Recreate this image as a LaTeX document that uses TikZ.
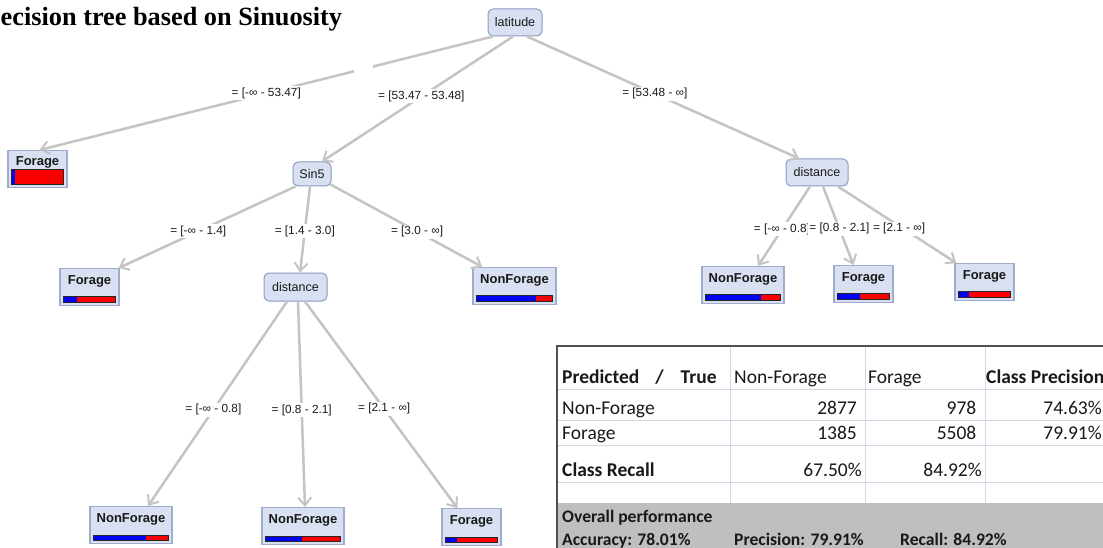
\documentclass[tikz,border=0pt]{standalone}
\usepackage{fontspec}
\usetikzlibrary{arrows.meta}
\newfontfamily\treefont{Liberation Sans}
\newfontfamily\tabfont{Carlito}
\newfontfamily\titlefont{Liberation Serif}
\definecolor{nodefill}{RGB}{217,224,242}
\definecolor{nodeline}{RGB}{140,155,195}
\definecolor{leafline}{RGB}{160,172,204}
\definecolor{edgegray}{RGB}{196,196,196}
\definecolor{gridc}{RGB}{208,215,229}
\definecolor{tabline}{RGB}{80,80,80}
\definecolor{grayfill}{RGB}{191,191,191}
\definecolor{barblue}{RGB}{0,0,240}
\definecolor{barred}{RGB}{250,0,0}
\definecolor{txt}{RGB}{25,25,25}
\tikzset{
  inode/.style={draw=nodeline, line width=1pt, fill=nodefill, rounded corners=5pt,
    inner sep=0pt, font=\treefont\fontsize{12.5}{14}\selectfont, text=txt},
  leafbox/.style={draw=leafline, line width=1.3pt, fill=nodefill, inner sep=0pt, minimum height=37pt},
  leaftext/.style={inner sep=0pt, font=\treefont\bfseries\fontsize{13}{15}\selectfont, text=txt},
  edge/.style={draw=edgegray, line width=2.5pt, -{Straight Barb[length=8pt,width=13pt,line width=2pt]}},
  lab/.style={fill=white, inner sep=1.5pt, font=\treefont\fontsize{11.8}{13}\selectfont, text=txt},
  tl/.style={inner sep=0pt, anchor=base west, font=\tabfont\fontsize{19.5}{22}\selectfont, text=txt},
  tr/.style={inner sep=0pt, anchor=base east, font=\tabfont\fontsize{19.5}{22}\selectfont, text=txt},
  tb/.style={inner sep=0pt, anchor=base west, font=\tabfont\bfseries\fontsize{17.6}{20}\selectfont, text=txt},
  gridline/.style={draw=gridc, line width=1pt},
  barline/.style={draw=black!85, line width=0.8pt}
}
% name, cx, top, width, label, blue fraction, bar height
\newcommand{\leafnode}[7]{%
  \node[leafbox, minimum width=#4pt, anchor=north] (#1) at (#2,#3) {};
  \node[leaftext, anchor=base] (#1t) at ([yshift=-16pt]#1.north) {#5};
  \pgfmathsetmacro\lfL{#2-#4/2+3}
  \pgfmathsetmacro\lfR{#2+#4/2-4}
  \pgfmathsetmacro\lfM{\lfL+#6*(\lfR-\lfL)}
  \pgfmathsetmacro\lfB{#3+37-3}
  \pgfmathsetmacro\lfT{\lfB-#7}
  \fill[barblue] (\lfL,\lfT) rectangle (\lfM,\lfB);
  \fill[barred] (\lfM,\lfT) rectangle (\lfR,\lfB);
  \draw[barline] (\lfL,\lfT) rectangle (\lfR,\lfB);
}
\begin{document}
\begin{tikzpicture}[x=1pt,y=-1pt]
\useasboundingbox (0,0) rectangle (1103,548);
\clip (0,0) rectangle (1103,548);
\fill[white] (0,0) rectangle (1103,548);

% title
\node[inner sep=0pt, anchor=base west, font=\titlefont\bfseries\fontsize{26.3}{30}\selectfont] (title) at (0.5,26) {ecision tree based on Sinuosity};

% inner nodes
\node[inode, minimum width=54pt, minimum height=27pt] (lat) at (515,22.5) {latitude};
\node[inode, minimum width=38pt, minimum height=24pt] (sin) at (312,174) {Sin5};
\node[inode, minimum width=62pt, minimum height=27pt] (distR) at (817,172.5) {distance};
\node[inode, minimum width=63pt, minimum height=28pt] (distM) at (295.5,287) {distance};

% leaves
\leafnode{leafA}{37.5}{150}{59}{Forage}{0.08}{15}
\leafnode{leafB}{89.5}{268}{59}{Forage}{0.26}{6}
\leafnode{leafC}{514.5}{267}{83}{NonForage}{0.79}{6}
\leafnode{leafD}{743}{266}{82}{NonForage}{0.74}{6}
\leafnode{leafE}{863.5}{265}{59}{Forage}{0.435}{6}
\leafnode{leafF}{984.5}{263}{59}{Forage}{0.22}{6}
\leafnode{leafG}{131}{506}{82}{NonForage}{0.71}{5}
\leafnode{leafH}{303}{507}{82}{NonForage}{0.49}{5}
\leafnode{leafI}{471.5}{508}{59}{Forage}{0.24}{5}

% edges
\draw[edge] ([xshift=-22pt]lat.south) -- node[lab, pos=0.5] (l1) {= [-∞ - 53.47]} ([xshift=2pt]leafA.north);
\fill[white] (354,57) rectangle (373,79);
\draw[edge] ([xshift=-2pt]lat.south) -- node[lab, pos=0.48] (l2) {= [53.47 - 53.48]} ([xshift=10pt]sin.north);
\draw[edge] ([xshift=12pt]lat.south) -- node[lab, pos=0.47] (l3) {= [53.48 - ∞]} ([xshift=-18pt]distR.north);

\draw[edge] ([xshift=3pt]sin.south west) -- node[lab, pos=0.55] (l4) {= [-∞ - 1.4]} ([xshift=-1pt]leafB.north east);
\draw[edge] ([xshift=-2pt]sin.south) -- node[lab, pos=0.52] (l5) {= [1.4 - 3.0]} ([xshift=4.5pt]distM.north);
\draw[edge] ([xshift=-1pt,yshift=2pt]sin.south east) -- node[lab, pos=0.57] (l6) {= [3.0 - ∞]} ([xshift=10pt]leafC.north west);

\draw[edge] ([xshift=-7pt]distR.south) -- node[lab, pos=0.54] (l7) {= [-∞ - 0.8]} ([xshift=15pt]leafD.north);
\draw[edge] ([xshift=6pt]distR.south) -- node[lab, pos=0.54] (l8) {= [0.8 - 2.1]} ([xshift=-10pt]leafE.north);
\draw[edge] ([xshift=21pt]distR.south) -- node[lab, pos=0.55, xshift=-4pt] (l9) {= [2.1 - ∞]} ([xshift=2pt]leafF.north west);

\draw[edge] ([xshift=-8.5pt]distM.south) -- node[lab, pos=0.53] (l10) {= [-∞ - 0.8]} ([xshift=17pt]leafG.north);
\draw[edge] ([xshift=2.5pt]distM.south) -- node[lab, pos=0.53] (l11) {= [0.8 - 2.1]} ([xshift=2pt]leafH.north);
\draw[edge] ([xshift=9.5pt]distM.south) -- node[lab, pos=0.52] (l12) {= [2.1 - ∞]} ([xshift=16pt]leafI.north west);

% table
\fill[white] (557,346) rectangle (1110,503);
\fill[grayfill] (557,503) rectangle (1110,560);
\foreach \gx in {730,865,985} \draw[gridline] (\gx,346) -- (\gx,503);
\foreach \gy in {389,420,445,482} \draw[gridline] (557,\gy) -- (1110,\gy);
\draw[draw=tabline, line width=1.5pt] (557,560) -- (557,346) -- (1110,346);

\node[tl] (h1) at (562,383) {\bfseries Predicted\hspace{16pt}/\hspace{17pt}True};
\node[tl] (h2) at (734,383) {Non-Forage};
\node[tl] (h3) at (868,383) {Forage};
\node[tl] (h4) at (986,383) {\bfseries Class Precision};

\node[tl] (r1) at (562,414) {Non-Forage};
\node[tr] (r1a) at (857,414) {2877};
\node[tr] (r1b) at (976.5,414) {978};
\node[tr] (r1c) at (1102,414) {74.63\%};

\node[tl] (r2) at (562,439) {Forage};
\node[tr] (r2a) at (857,439) {1385};
\node[tr] (r2b) at (976.5,439) {5508};
\node[tr] (r2c) at (1102,439) {79.91\%};

\node[tl] (r3) at (562,476) {\bfseries Class Recall};
\node[tr] (r3a) at (862,476) {67.50\%};
\node[tr] (r3b) at (982,476) {84.92\%};

\node[tb] (o1) at (562,522) {Overall performance};
\node[tb] (o2) at (562,545) {Accuracy: 78.01\%};
\node[tb] (o3) at (734,545) {Precision: 79.91\%};
\node[tb] (o4) at (900,545) {Recall: 84.92\%};
\end{tikzpicture}
\end{document}
